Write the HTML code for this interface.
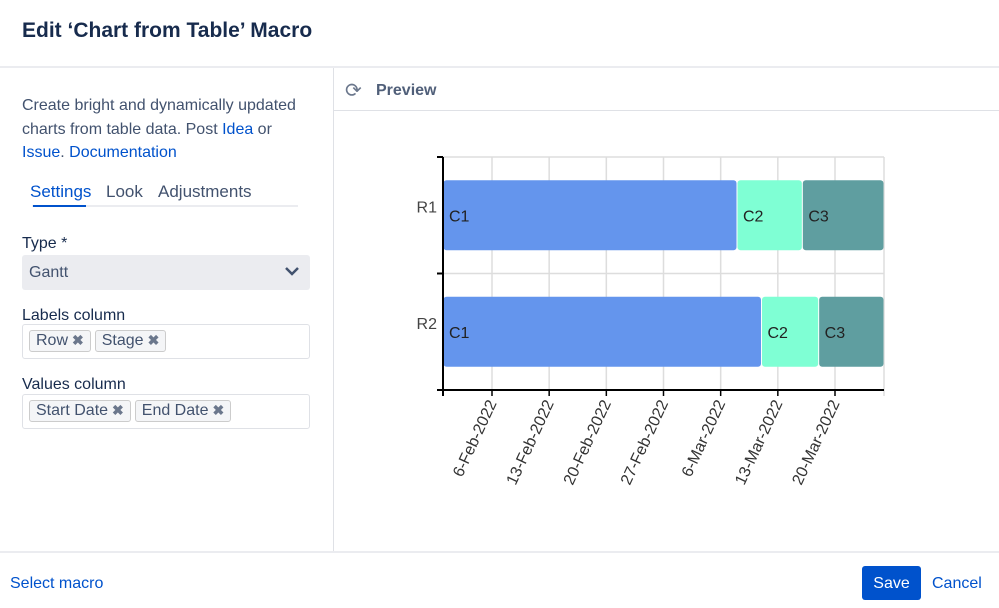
<!DOCTYPE html>
<html><head><meta charset="utf-8"><style>
body{margin:0;width:999px;height:608px;overflow:hidden;background:#fff;font-family:"Liberation Sans",sans-serif;color:#172b4d;position:relative}
.a{position:absolute}
a,.lnk{color:#0052cc;text-decoration:none}
.tag{display:inline-block;background:#f4f5f7;border:1px solid #ccc;border-radius:3px;padding:1px 6px;font-size:16px;color:#42526e;margin-right:4px}
.tag b{color:#6b778c;font-size:14px;margin-left:4px}
.box{position:absolute;left:22px;width:288px;height:34px;border:1px solid #dfe1e6;border-radius:3px;box-sizing:border-box;padding:5px 6px}
.lbl{position:absolute;left:22px;font-size:16px;color:#172b4d}
</style></head><body>
<div class="a" style="left:22px;top:19px;font-size:21px;font-weight:bold;color:#172b4d">Edit ‘Chart from Table’ Macro</div>
<div class="a" style="left:0;top:66px;width:999px;height:2px;background:#ebecf0"></div>
<div class="a" style="left:333px;top:68px;width:1px;height:484px;background:#dfe1e6"></div>
<div class="a" style="left:22px;top:94px;width:285px;font-size:16px;line-height:23.5px;color:#42526e">Create bright and dynamically updated charts from table data. Post <a>Idea</a> or <a>Issue</a>. <a>Documentation</a></div>
<div class="a" style="left:32px;top:205px;width:266px;height:2px;background:#ebecf0"></div>
<div class="a" style="left:30px;top:182px;font-size:17px;color:#0052cc">Settings</div>
<div class="a" style="left:33px;top:205px;width:53px;height:2px;background:#0052cc"></div>
<div class="a" style="left:106px;top:182px;font-size:17px;color:#42526e">Look</div>
<div class="a" style="left:158px;top:182px;font-size:17px;color:#42526e">Adjustments</div>
<div class="lbl" style="top:235px">Type *</div>
<div class="a" style="left:22px;top:255px;width:288px;height:35px;background:#ebecf0;border-radius:3px">
<span style="position:absolute;left:7px;top:9px;font-size:16px;color:#42526e">Gantt</span>
<svg style="position:absolute;right:10px;top:11px" width="16" height="12"><path d="M2 2 L8 8 L14 2" stroke="#42526e" stroke-width="2.5" fill="none"/></svg></div>
<div class="lbl" style="top:307px">Labels column</div>
<div class="box" style="top:324px;height:35px"><span class="tag">Row<b>✖</b></span><span class="tag">Stage<b>✖</b></span></div>
<div class="lbl" style="top:376px">Values column</div>
<div class="box" style="top:394px;height:35px"><span class="tag">Start Date<b>✖</b></span><span class="tag">End Date<b>✖</b></span></div>
<div class="a" style="left:345px;top:78px;font-size:20px;color:#6b778c">⟳</div>
<div class="a" style="left:376px;top:82px;font-size:16px;font-weight:bold;color:#505f79">Preview</div>
<div class="a" style="left:334px;top:110px;width:665px;height:1px;background:#dfe1e6"></div>
<svg class="a" style="left:0;top:0" width="999" height="552" id="ch"></svg>
<div class="a" style="left:0;top:551px;width:999px;height:2px;background:#ebecf0"></div>
<div class="a lnk" style="left:10px;top:575px;font-size:16px">Select macro</div>
<div class="a" style="left:862px;top:566px;width:59px;height:34px;background:#0052cc;border-radius:3px;color:#fff;font-size:16px;text-align:center;line-height:35px">Save</div>
<div class="a lnk" style="left:932px;top:575px;font-size:16px">Cancel</div>
<script>
const rows=["R1","R2"];
const stages=["C1","C2","C3"];
const r1Dates=["2022-01-31","2022-03-08","2022-03-16","2022-03-26"];
const r2Dates=["2022-01-31","2022-03-11","2022-03-18","2022-03-26"];
const tickLabels=["6-Feb-2022","13-Feb-2022","20-Feb-2022","27-Feb-2022","6-Mar-2022","13-Mar-2022","20-Mar-2022"];
const tickDates=["2022-02-06","2022-02-13","2022-02-20","2022-02-27","2022-03-06","2022-03-13","2022-03-20"];
const domain=["2022-01-31","2022-03-26"];
const colors=["#6495ed","#7fffd4","#5f9ea0"];
const NS="http://www.w3.org/2000/svg",svg=document.getElementById('ch');
const X0=443,X1=884,Y0=157,Y1=390;
const t=d=>Date.parse(d+"T00:00:00Z");
const x=d=>X0+(t(d)-t(domain[0]))/(t(domain[1])-t(domain[0]))*(X1-X0);
const band=(Y1-Y0)/rows.length;
const y=i=>Y0+i*band;
function mk(tag,at){const e=document.createElementNS(NS,tag);for(const k in at)e.setAttribute(k,at[k]);svg.appendChild(e);return e;}
for(let i=0;i<rows.length;i++){const g=mk('line',{x1:X0,x2:X1,y1:y(i),y2:y(i),stroke:'#ddd','stroke-width':1.5});

}
tickDates.forEach((d,i)=>{const g=mk('line',{x1:x(d),x2:x(d),y1:Y0,y2:Y1,stroke:'#ddd','stroke-width':1.5});


const tk=mk('line',{x1:x(d),x2:x(d),y1:Y1,y2:Y1+6,stroke:'#000','stroke-width':1.5});


const tx=mk('text',{x:x(d)+5,y:Y1+13,transform:`rotate(-65 ${x(d)+5} ${Y1+13})`,'text-anchor':'end','font-size':16,fill:'#333','font-family':'Liberation Sans'});
tx.textContent=tickLabels[i];

});
const endv=mk('line',{x1:X1,x2:X1,y1:Y0,y2:Y1+6,stroke:'#ddd','stroke-width':1.5});


[r1Dates,r2Dates].forEach((ds,ri)=>{
 for(let s=0;s<stages.length;s++){
  const bx=x(ds[s]),bw=x(ds[s+1])-bx,by=y(ri)+band*0.2,bh=band*0.6;
  const r=mk('rect',{x:bx+0.5,y:by,width:bw-1,height:bh,rx:3,fill:colors[s]});
  
  
  const l=mk('text',{x:bx+6,y:by+bh/2+6,'font-size':16,fill:'#222','font-family':'Liberation Sans'});
  l.textContent=stages[s];
  
  
 }
 const yl=mk('text',{x:X0-6,y:y(ri)+band/2-3,'text-anchor':'end','font-size':16,fill:'#444','font-family':'Liberation Sans'});
 yl.textContent=rows[ri];
 
 
});
for(let i=0;i<=rows.length;i++){const tk=mk('line',{x1:X0-6,x2:X0,y1:y(i),y2:y(i),stroke:'#000','stroke-width':2});

}
const ya=mk('line',{x1:X0,x2:X0,y1:Y0,y2:Y1+6,stroke:'#000','stroke-width':2});


const xa=mk('line',{x1:X0-6,x2:X1,y1:Y1,y2:Y1,stroke:'#000','stroke-width':2});


</script>
</body></html>
